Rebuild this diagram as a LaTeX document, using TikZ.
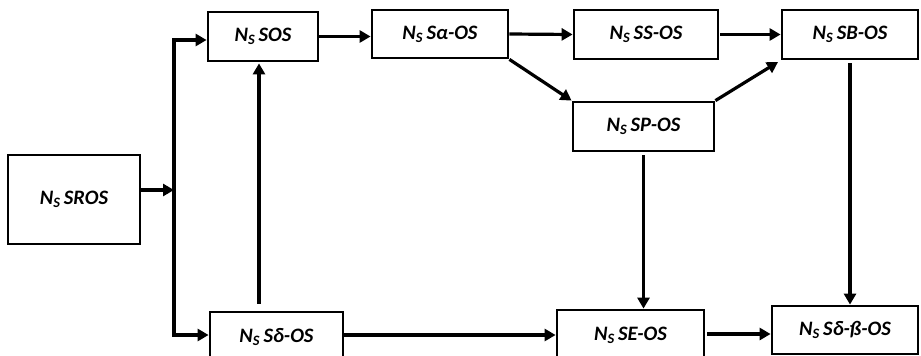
\documentclass[tikz,border=0pt]{standalone}
\usepackage{fontspec}
\setmainfont{Carlito}
\usetikzlibrary{arrows.meta}
\newcommand{\Ns}{N\textsubscript{S}\,}
\tikzset{
  box/.style={draw=black, line width=2.8pt, fill=white, inner sep=0pt,
    font=\fontsize{20.5}{23}\selectfont\bfseries\itshape},
  arr/.style={line width=3.2pt, -{Triangle[length=11pt,width=12pt]}},
}
\begin{document}
\begin{tikzpicture}[x=1pt,y=-1pt]
\useasboundingbox (0,0) rectangle (921,356);
\clip (0,0) rectangle (921,356);
\node[box, minimum width=132pt, minimum height=89pt] (sros) at (74,199.5) {\raisebox{-12pt}{\Ns SROS}};
\node[box, minimum width=110pt, minimum height=49pt] (sos) at (263,36.5) {\Ns SOS};
\node[box, minimum width=136pt, minimum height=48pt] (sal) at (440,34) {\Ns Sα-OS};
\node[box, minimum width=144pt, minimum height=49pt] (ss) at (646,34.5) {\Ns SS-OS};
\node[box, minimum width=136pt, minimum height=49pt] (sb) at (850,34.5) {\Ns SB-OS};
\node[box, minimum width=141pt, minimum height=49pt] (sp) at (643.5,126.5) {\Ns SP-OS};
\node[box, minimum width=133pt, minimum height=50pt] (sd) at (276.5,337) {\Ns Sδ-OS};
\node[box, minimum width=147pt, minimum height=50pt] (se) at (630.5,335) {\Ns SE-OS};
\node[box, minimum width=146pt, minimum height=48pt] (sdb) at (845,330) {\raisebox{2pt}{\Ns Sδ-ß-OS}};
\coordinate (j) at (174,190);
\coordinate (jt) at (174,40);
\coordinate (jb) at (174,335);
\coordinate (k) at (704,334);
\draw[arr] (sros.east |- j) -- (j);
\draw[line width=3.2pt] (jt) -- (jb);
\draw[arr] ([xshift=-1.6pt]jt) -- (sos.west |- jt);
\draw[arr] ([xshift=-1.6pt]jb) -- (sd.west |- jb);
\draw[arr] (sos.east) -- (sal.west |- sos.east);
\draw[arr] (sal.east) -- (ss.west);
\draw[arr, shorten <=1pt] (ss.east) -- (sb.west);
\draw[arr] (sal.south east) -- (sp.north west);
\draw[arr, shorten >=3pt] (sp.north east) -- (sb.south west);
\draw[arr, shorten <=3pt] (sp.south) -- (sp.south |- se.north);
\draw[arr, shorten <=3pt] (sb.south) -- (sb.south |- sdb.north);
\draw[arr, shorten <=7pt, shorten >=1pt] ([xshift=-4pt]sos.south |- sd.north) -- ([xshift=-4pt]sos.south);
\draw[arr] (sd.east |- jb) -- (se.west |- jb);
\draw[arr, shorten <=2pt] (se.east |- k) -- (sdb.west |- k);
\end{tikzpicture}
\end{document}
